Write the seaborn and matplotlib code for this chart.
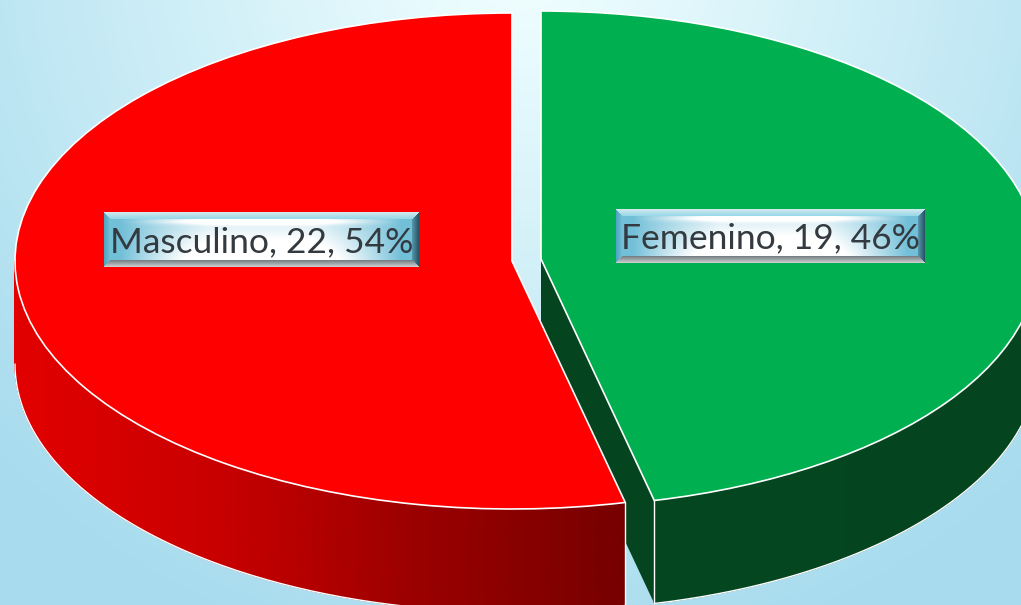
import matplotlib.pyplot as plt
from matplotlib.colors import to_rgb
import seaborn as sns
import numpy as np

categories = ['Masculino', 'Femenino']
values = [22, 19]
slice_colors = ['#ff0000', '#00b050']

sns.set_theme(style='white')
plt.rcParams['font.family'] = ['Lato', 'DejaVu Sans']

W, H = 1021, 605
RX, RY = 497.0, 248.0
DEPTH = 103.0 / RY
# slice centres in pixels, the two slices are pulled apart
centers_px = [(512, 261), (541, 259)]
label_boxes = [(104, 212, 419, 267), (616, 209, 925, 263)]


def ux(px):
    return (px - 512) / RX


def uy(py):
    return (261 - py) / RY


def blend(c1, c2, t):
    c1, c2 = np.array(to_rgb(c1)), np.array(to_rgb(c2))
    t = np.asarray(t)[..., None]
    return c1 * (1 - t) + c2 * t


fig = plt.figure(figsize=(W / 100, H / 100), dpi=100)
ax = fig.add_axes([0, 0, 1, 1])

wedges, _ = ax.pie(values, colors=slice_colors, startangle=90, counterclock=True,
                   wedgeprops={'edgecolor': 'white', 'linewidth': 1.2, 'zorder': 5})
ax.set_aspect('auto')
ax.set_axis_off()

centers = [(ux(x), uy(y)) for x, y in centers_px]
for w, c in zip(wedges, centers):
    w.set_center(c)

# background, light at the top middle
yy, xx = np.mgrid[0:H, 0:W]
dist = np.hypot(xx - 520, yy + 50)
bg = blend('#effeff', '#a8dcee', np.clip((dist - 40) / 680, 0, 1))
ax.imshow(bg, extent=(ux(0), ux(W), uy(H), uy(0)), aspect='auto', zorder=0)

# side walls
red_ramp = sns.blend_palette(['#e20000', '#c80000', '#9a0000', '#760000'], as_cmap=True)
green_ramp = sns.blend_palette(['#04461f', '#04451f'], as_cmap=True)
red, green = wedges
cr, cg = centers


def draw_wall(center, t1, t2, ramp, z):
    thetas = np.radians(np.linspace(t1, t2, 160))
    xs = center[0] + np.cos(thetas)
    ys = center[1] + np.sin(thetas)
    X = np.vstack([xs, xs])
    Y = np.vstack([ys, ys - DEPTH])
    C = np.vstack([xs, xs])
    ax.pcolormesh(X, Y, C, cmap=ramp, shading='gouraud', zorder=z)
    ax.plot(xs, ys - DEPTH, color='white', lw=1.0, zorder=z + 0.1)
    ax.plot([xs[-1], xs[-1]], [ys[-1], ys[-1] - DEPTH], color='white', lw=1.0, zorder=z + 0.1)


# cut face of the green slice, seen through the gap
tip = np.radians(green.theta1)
tx, ty = cg[0] + np.cos(tip), cg[1] + np.sin(tip)
ax.fill([cg[0], tx, tx, cg[0]], [cg[1], ty, ty - DEPTH, cg[1] - DEPTH],
        color='#04451f', lw=0, zorder=1)
ax.plot([tx, tx], [ty, ty - DEPTH], color='white', lw=1.0, zorder=2.5)

draw_wall(cg, green.theta1, 360, green_ramp, 2)
draw_wall(cr, 180, red.theta2, red_ramp, 3)

# label boxes with a bevel
total = sum(values)


def label_image(w, h, b=7):
    y, x = np.mgrid[0:h, 0:w]
    u = (x + 0.5) / w
    v = (y + 0.5) / h
    # face: blue at the ends, white in the middle, paler towards the bottom
    s = np.clip(1.25 - (np.abs(2 * u - 1) ** 1.6) * 1.5, 0, 1)
    s = np.clip(s * (0.55 + 0.9 * v) + np.exp(-((v - 0.17) / 0.06) ** 2) * s * 0.6, 0, 1)
    img = blend('#72bfd8', '#ffffff', s)
    # bevels
    dl, dr, dt, db = x, w - 1 - x, y, h - 1 - y
    m = np.minimum.reduce([dl, dr, dt, db])
    band = m < b
    left = band & (dl == m)
    right = band & (dr == m)
    top = band & (dt == m)
    bot = band & (db == m)
    img[left] = blend('#4fa6c0', '#7cc6dc', dl[left] / b)
    img[right] = blend('#2a5566', '#5a9fb5', dr[right] / b)
    img[top] = blend('#d0e8ee', '#8fd6e8', dt[top] / b)
    img[bot] = blend('#c8ccce', '#6a7478', db[bot] / b)
    return img


for name, val, (x0, y0, x1, y1) in zip(categories, values, label_boxes):
    ax.imshow(label_image(x1 - x0, y1 - y0), extent=(ux(x0), ux(x1), uy(y1), uy(y0)),
              aspect='auto', interpolation='bilinear', zorder=6)
    ax.text(ux((x0 + x1) / 2), uy((y0 + y1) / 2 + 2.5),
            f'{name}, {val}, {round(val / total * 100)}%',
            ha='center', va='center', fontsize=25.5, color='#333a40', zorder=7)

ax.set_xlim(ux(0), ux(W))
ax.set_ylim(uy(H), uy(0))
fig.savefig('out.png', dpi=100)
plt.close()
